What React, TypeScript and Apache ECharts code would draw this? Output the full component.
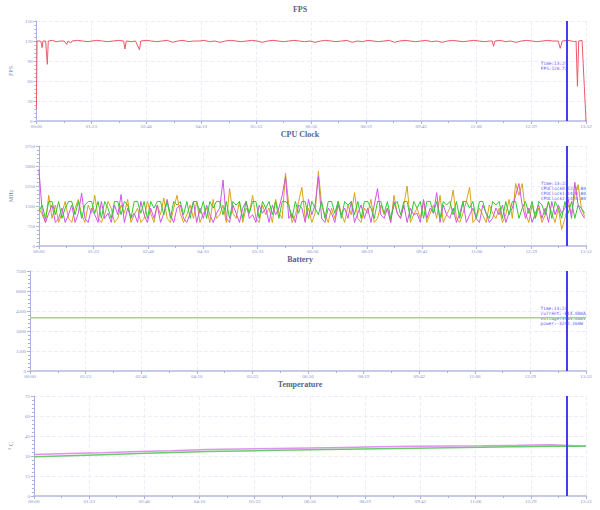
import React, { useEffect, useRef } from "react";
import * as echarts from "echarts";

// ---------- data ----------
const TIME_MAX = 832; // seconds (13:52)
const TIME_STEP = 83.2;
const cursorTime = 803; // 13:23

const panelTitles = ["FPS", "CPU Clock", "Battery", "Temperature"];
const yNames = ["FPS", "MHz", "", "° C"];
const yMax = [150, 3750, 7500, 75];
const yInterval = [30, 750, 1500, 15];

const fpsPoints: [number, number][] = [
  [0, 18], [1, 120], [5, 120], [7, 119], [8.5, 110], [10, 120], [14, 120], [16.5, 85], [18, 120], [24, 121],
  [30, 119], [36, 120], [42, 120], [46, 115], [48, 120], [52, 117], [54, 120], [62, 121], [70, 120], [78, 119],
  [84, 120], [92, 121], [100, 120], [108, 119], [116, 120], [124, 121], [132, 120], [134, 108], [136, 120], [144, 119],
  [150, 120], [156, 107], [158, 120], [166, 121], [174, 120], [182, 119], [190, 120], [198, 121], [206, 118], [214, 120],
  [222, 121], [230, 119], [238, 120], [246, 120], [254, 121], [262, 119], [270, 120], [278, 118], [286, 120], [294, 121],
  [302, 120], [310, 119], [318, 120], [326, 121], [334, 120], [342, 118], [350, 120], [358, 121], [366, 120], [374, 119],
  [382, 120], [390, 121], [398, 120], [406, 119], [414, 120], [422, 118], [430, 120], [438, 121], [446, 120], [454, 119],
  [462, 120], [470, 121], [478, 118], [486, 120], [494, 119], [502, 121], [510, 120], [518, 119], [526, 120], [534, 121],
  [542, 118], [550, 120], [558, 121], [566, 120], [574, 119], [582, 120], [590, 121], [598, 119], [606, 120], [614, 118],
  [622, 120], [630, 121], [638, 120], [646, 119], [654, 120], [662, 121], [670, 120], [678, 119], [686, 120], [690, 120],
  [692, 112], [694, 120], [702, 121], [710, 119], [718, 120], [726, 118], [734, 120], [742, 121], [750, 120], [758, 119],
  [766, 120], [774, 121], [782, 120], [790, 120], [793, 109], [796, 120], [804, 121], [810, 120], [815, 119], [817, 120],
  [819, 52], [821, 120], [826, 121], [832, 0],
];

const cpuSampleSeconds = 5;
const cpuClock0 = [
  1420, 1171, 883, 1900, 1036, 1536, 883, 1228, 1670, 1036,
  883, 1420, 1747, 1171, 883, 1536, 1228, 1900, 1036, 883,
  1171, 1670, 1420, 883, 1036, 1536, 1228, 1747, 883, 1171,
  1420, 883, 1036, 1670, 1228, 883, 1536, 1171, 1800, 1036,
  883, 1420, 1900, 1228, 883, 1171, 1536, 1036, 1670, 883,
  1228, 1420, 883, 1747, 1036, 1171, 1536, 883, 2150, 1228,
  1036, 1670, 883, 1420, 1228, 1900, 1036, 883, 1536, 1171,
  1420, 883, 1747, 1228, 1036, 2726, 1536, 883, 1171, 1670,
  2200, 1036, 1420, 883, 1228, 2803, 1536, 1171, 883, 1420,
  1036, 1670, 1228, 883, 1536, 1171, 2000, 1036, 883, 1420,
  1228, 1747, 883, 1036, 1536, 1171, 1420, 883, 1900, 1228,
  1036, 1536, 2250, 883, 1171, 1420, 1036, 1670, 883, 1228,
  1536, 1036, 1900, 883, 1171, 1420, 2100, 1036, 883, 1228,
  1670, 2200, 883, 1036, 1420, 1171, 883, 1536, 1228, 1036,
  1420, 883, 1171, 1747, 1036, 2342, 1900, 2342, 1228, 883,
  1536, 1036, 1420, 883, 1171, 1670, 1228, 883, 1420, 620,
  1036, 1536, 1228, 1900, 2300, 1420, 1100,
];
const cpuClock1 = [
  2880, 1300, 883, 1228, 1536, 883, 1036, 1420, 883, 1171,
  1536, 883, 1228, 1975, 1036, 883, 1420, 1171, 883, 1670,
  1036, 1228, 883, 1536, 1171, 1930, 883, 1420, 1036, 1228,
  883, 1670, 1171, 883, 1420, 1036, 1536, 883, 1228, 1747,
  1171, 883, 1420, 1536, 1036, 883, 1228, 1670, 883, 1420,
  1036, 1536, 1171, 883, 1228, 1420, 2475, 1036, 883, 1536,
  1228, 883, 1420, 1670, 1036, 1171, 883, 1536, 1228, 1420,
  883, 1536, 1171, 1420, 1900, 2600, 1036, 1228, 883, 1536,
  1420, 883, 1747, 1171, 1536, 2600, 1036, 883, 1420, 1228,
  883, 1536, 1171, 1420, 1036, 1670, 883, 1228, 1536, 1036,
  1420, 883, 1536, 2150, 1171, 1036, 1420, 883, 1670, 1228,
  1036, 1536, 883, 1420, 1171, 1228, 883, 1747, 1036, 1420,
  1228, 2000, 883, 1536, 1171, 1036, 1420, 883, 1228, 1670,
  883, 1171, 1420, 1036, 883, 1536, 1228, 883, 1036, 1420,
  1171, 1536, 883, 1228, 1420, 1900, 2342, 1536, 1036, 1420,
  883, 1228, 1536, 1036, 1420, 883, 1670, 1171, 1536, 1228,
  1420, 1747, 1036, 2390, 1536, 1228, 1036,
];
const cpuClock2 = [
  1300, 1536, 1036, 1670, 1670, 1171, 1670, 1036, 1420, 1670,
  1670, 1171, 1670, 1036, 1536, 1670, 1670, 1228, 1670, 1036,
  1670, 1420, 1036, 1670, 1670, 1171, 1670, 1536, 1036, 1670,
  1670, 1228, 1670, 1036, 1670, 1420, 1670, 1670, 1171, 1670,
  1036, 1670, 1536, 1670, 1171, 1670, 1036, 1670, 1670, 1228,
  1670, 1036, 1670, 1420, 1670, 1670, 1171, 1670, 1036, 1670,
  1536, 1670, 1036, 1670, 1228, 1670, 1670, 1036, 1670, 1420,
  1670, 1171, 1670, 1036, 1670, 1670, 1536, 1036, 1670, 1228,
  1670, 1670, 1036, 1670, 1420, 1171, 1670, 1036, 1670, 1670,
  1228, 1670, 1036, 1670, 1536, 1670, 1171, 1670, 1036, 1670,
  1670, 1420, 1036, 1670, 1670, 1228, 1670, 1036, 1536, 1670,
  1171, 1670, 1670, 1036, 1670, 1420, 1670, 1036, 1670, 1670,
  1228, 1670, 1036, 1670, 1536, 1670, 1171, 1670, 1036, 1670,
  1670, 1420, 1670, 1036, 1670, 1670, 1228, 1036, 1670, 1536,
  1670, 1036, 1670, 1171, 1670, 1670, 1036, 1420, 1670, 1228,
  1670, 1036, 1670, 1536, 1171, 1670, 1036, 1670, 1420, 1036,
  1670, 1228, 1670, 1036, 1536, 1420, 1228,
];

const batteryTime = [0, 208, 416, 624, 832];
const batteryVoltage = [3995, 3992, 3990, 3988, 3986];

const tempTime = [0, 52, 104, 156, 208, 260, 312, 364, 416, 468, 520, 572, 624, 676, 728, 780, 832];
const tempA = [31.1, 31.8, 32.5, 33.3, 34.0, 34.8, 35.2, 35.6, 36.0, 36.4, 36.9, 37.3, 37.5, 37.7, 38.0, 38.4, 37.4];
const tempB = [29.4, 30.2, 31.0, 31.8, 32.6, 33.3, 33.8, 34.3, 34.7, 35.1, 35.5, 35.8, 36.2, 36.6, 37.0, 37.3, 37.3];

const cursorLabels: string[][] = [
  ["Time:13:23", "FPS:120.72"],
  ["Time:13:23", "CPUClock0:1228.80", "CPUClock1:1420.80", "CPUClock2:1420.80"],
  ["Time:13:23", "current:-814.00mA", "voltage:3983.00mV", "power:-3242.16mW"],
  [],
];

// ---------- styles ----------
const gridTops = [21, 146, 271, 396];
const GRID_H = 100;
const AXIS_COLOR = "#a9b1dc";
const LABEL_COLOR = "#8592c8";
const SPLIT_COLOR = "#eceef8";
const CURSOR_COLOR = "#3f3fee";

function fmtTime(v: number): string {
  const s = Math.round(v);
  const m = Math.floor(s / 60);
  const ss = s % 60;
  return String(m).padStart(2, "0") + ":" + String(ss).padStart(2, "0");
}

export default function App() {
  const ref = useRef<HTMLDivElement>(null);
  useEffect(() => {
    if (!ref.current) return;
    const chart = echarts.init(ref.current, undefined, { renderer: "svg" });

    const grids = gridTops.map((t) => ({ left: 30, right: 14, top: t, height: GRID_H }));
    const titles = panelTitles.map((t, i) => ({
      text: t,
      left: "center",
      top: gridTops[i] - 16,
      padding: 0,
      textStyle: { fontFamily: "Liberation Serif", fontSize: 8, fontWeight: "bold", color: "#56648f" },
    }));
    const xAxes = gridTops.map((_, i) => ({
      type: "value",
      gridIndex: i,
      min: 0,
      max: TIME_MAX,
      interval: TIME_STEP,
      axisLine: { lineStyle: { color: "#c5cae8", width: 2 } },
      axisTick: { show: true, length: 3, lineStyle: { color: AXIS_COLOR } },
      minorTick: { show: true, splitNumber: 2, length: 2, lineStyle: { color: AXIS_COLOR } },
      axisLabel: {
        formatter: (v: number) => fmtTime(v),
        fontFamily: "Liberation Serif",
        fontSize: 5,
        color: LABEL_COLOR,
        margin: 3,
        showMaxLabel: true,
        showMinLabel: true,
      },
      splitLine: { show: true, lineStyle: { color: SPLIT_COLOR, type: "dashed" } },
    }));
    const yAxes = gridTops.map((_, i) => ({
      type: "value",
      gridIndex: i,
      min: 0,
      max: yMax[i],
      interval: yInterval[i],
      name: yNames[i],
      nameLocation: "middle",
      nameGap: 19,
      nameRotate: 90,
      nameTextStyle: { fontFamily: "Liberation Serif", fontSize: 6, color: "#7483c0" },
      axisLine: { show: true, lineStyle: { color: AXIS_COLOR, width: 1 } },
      axisTick: { show: true, length: 3, lineStyle: { color: AXIS_COLOR } },
      minorTick: { show: true, splitNumber: 5, length: 2, lineStyle: { color: AXIS_COLOR } },
      axisLabel: {
        formatter: (v: number) => String(v),
        fontFamily: "Liberation Serif",
        fontSize: 5,
        color: LABEL_COLOR,
        margin: 4,
      },
      splitLine: { show: true, lineStyle: { color: SPLIT_COLOR, type: "dashed" } },
    }));

    const cursorMark = {
      silent: true,
      symbol: ["none", "none"],
      label: { show: false },
      lineStyle: { color: CURSOR_COLOR, width: 2, type: "solid" },
      data: [{ xAxis: cursorTime }],
    };

    const cpuData = (arr: number[]) => arr.map((v, k) => [k * cpuSampleSeconds, v]);

    const series: any[] = [
      {
        type: "line", xAxisIndex: 0, yAxisIndex: 0, data: fpsPoints, showSymbol: false,
        lineStyle: { color: "#ec5a68", width: 1 }, markLine: cursorMark,
      },
      {
        type: "line", xAxisIndex: 1, yAxisIndex: 1, data: cpuData(cpuClock0), showSymbol: false,
        lineStyle: { color: "#d9a21b", width: 1 }, markLine: cursorMark,
      },
      {
        type: "line", xAxisIndex: 1, yAxisIndex: 1, data: cpuData(cpuClock1), showSymbol: false,
        lineStyle: { color: "#cf55e6", width: 1 },
      },
      {
        type: "line", xAxisIndex: 1, yAxisIndex: 1, data: cpuData(cpuClock2), showSymbol: false,
        lineStyle: { color: "#2fcb2f", width: 1 },
      },
      {
        type: "line", xAxisIndex: 2, yAxisIndex: 2,
        data: batteryTime.map((t, k) => [t, batteryVoltage[k]]), showSymbol: false,
        lineStyle: { color: "#8edc8e", width: 1.5 }, markLine: cursorMark,
      },
      {
        type: "line", xAxisIndex: 3, yAxisIndex: 3,
        data: tempTime.map((t, k) => [t, tempA[k]]), showSymbol: false,
        lineStyle: { color: "#e090f0", width: 1.5 }, markLine: cursorMark,
      },
      {
        type: "line", xAxisIndex: 3, yAxisIndex: 3,
        data: tempTime.map((t, k) => [t, tempB[k]]), showSymbol: false,
        lineStyle: { color: "#6acb6a", width: 1.5 },
      },
    ];

    chart.setOption({
      animation: false,
      backgroundColor: "#ffffff",
      title: titles,
      grid: grids,
      xAxis: xAxes,
      yAxis: yAxes,
      series,
    });

    const graphics: any[] = [];
    cursorLabels.forEach((lines, i) => {
      if (!lines.length) return;
      const p = chart.convertToPixel({ gridIndex: i } as any, [cursorTime, yMax[i] / 2]) as number[];
      graphics.push({
        type: "text",
        x: p[0] - 26,
        y: p[1] - 5,
        silent: true,
        style: {
          text: lines.join("\n"),
          fill: "#5a5af0",
          fontFamily: "DejaVu Sans Mono",
          fontSize: 4.4,
          lineHeight: 5.3,
          align: "left",
          verticalAlign: "middle",
        },
      });
    });
    chart.setOption({ graphic: graphics });

    return () => chart.dispose();
  }, []);

  return (
    <div
      ref={ref}
      style={{ position: "fixed", left: 0, top: 0, width: 600, height: 510, background: "#fff" }}
    />
  );
}
